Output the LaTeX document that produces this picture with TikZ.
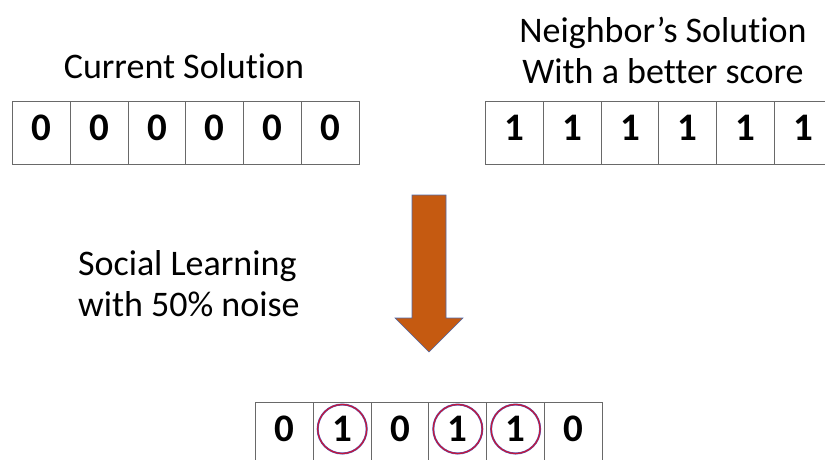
\documentclass[tikz,border=0pt]{standalone}
\usepackage{fontspec}
\setmainfont{Carlito}[Ligatures={TeX,NoCommon}]
\definecolor{cellgray}{RGB}{105,105,105}
\definecolor{arroworange}{RGB}{197,90,17}
\definecolor{arrowedge}{RGB}{80,105,170}
\definecolor{ringred}{RGB}{195,25,60}
\definecolor{ringblue}{RGB}{75,95,200}

\begin{document}
\begin{tikzpicture}[x=1pt,y=-1pt,font=\fontsize{36}{41}\selectfont,
  cell/.style={draw=cellgray,line width=1pt,minimum width=57.8pt,
    minimum height=63pt,inner sep=0pt,anchor=north west,text depth=10pt,
    font=\fontsize{39}{41}\selectfont\bfseries},
  ring/.style={draw=ringblue,double=ringred,double distance=1.3pt,
    line width=0.35pt}]
  \useasboundingbox (0,0) rectangle (825,459);
  \clip (0,0) rectangle (825,459);

  % Titles
  \node (curttl) at (184,66) {Current Solution};
  \node[align=center] (nbrttl) at (663,50)
    {Neighbor's Solution\\With a better score};
  \node[anchor=west,align=left] (slttl) at (74.5,284)
    {Social Learning\\with 50\% noise};

  % Rows of bits: current, neighbour, result
  \foreach \i/\lab in {1/0,2/0,3/0,4/0,5/0,6/0}{
    \node[cell] (cur\i) at ({12+(\i-1)*57.8},101) {\lab};
  }
  \foreach \i/\lab in {1/1,2/1,3/1,4/1,5/1,6/1}{
    \node[cell] (nbr\i) at ({485+(\i-1)*57.8},101) {\lab};
  }
  \foreach \i/\lab in {1/0,2/1,3/0,4/1,5/1,6/0}{
    \node[cell] (new\i) at ({255+(\i-1)*57.8},402) {\lab};
  }

  % Bits taken over from the neighbour
  \foreach \i in {2,4,5}{
    \draw[ring] ([yshift=5pt]new\i.center) circle (24.5);
  }

  % Block arrow
  \draw[fill=arroworange,draw=arrowedge,line width=0.6pt,line join=miter]
    (412,195) -- (446,195) -- (446,318) -- (463,318) -- (429,352)
    -- (395,318) -- (412,318) -- cycle;
\end{tikzpicture}
\end{document}
